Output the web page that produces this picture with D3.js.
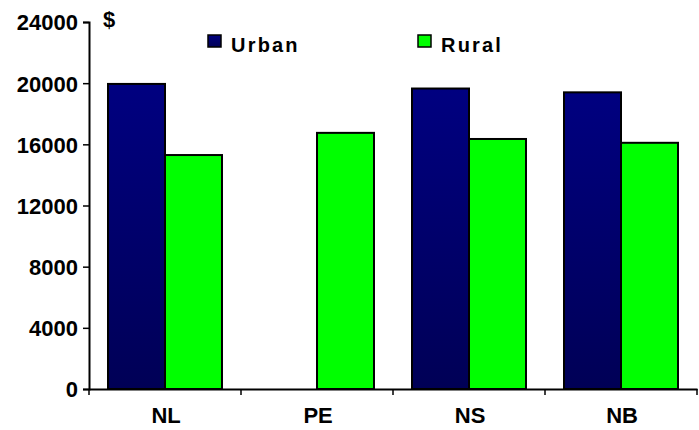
<!DOCTYPE html>
<html>
<head>
<meta charset="utf-8">
<script src="https://cdn.jsdelivr.net/npm/d3@7"></script>
<style>
  html, body { margin: 0; padding: 0; background: #fff; }
  svg text { font-family: "Liberation Sans", Arial, sans-serif; font-weight: bold; fill: #000; }
</style>
</head>
<body>
<svg id="chart" width="699" height="430"></svg>
<script>
// Average income by province, urban vs rural
const provinces = ["NL", "PE", "NS", "NB"];
const seriesNames = ["Urban", "Rural"];
const urbanValues = [19950, null, 19650, 19400];
const ruralValues = [15300, 16750, 16350, 16100];
const yTickValues = [0, 4000, 8000, 12000, 16000, 20000, 24000];
const seriesColors = { Urban: "#000080", Rural: "#00ff00" };

const svg = d3.select("#chart");
const W = 699, H = 430;
const margin = { top: 22, right: 2, bottom: 41, left: 89 };

const defs = svg.append("defs");
const grad = defs.append("linearGradient")
  .attr("id", "urbanFill").attr("x1", 0).attr("y1", 0).attr("x2", 0).attr("y2", 1);
grad.append("stop").attr("offset", "0%").attr("stop-color", "#000080");
grad.append("stop").attr("offset", "100%").attr("stop-color", "#000056");

const x0 = d3.scaleBand().domain(provinces).range([margin.left, W - margin.right]).padding(0);
const bw = x0.bandwidth();
const groupPad = bw * 0.125;
const x1 = d3.scaleBand().domain(seriesNames).range([groupPad, bw - groupPad]).padding(0);
const y = d3.scaleLinear().domain([0, 24000]).range([H - margin.bottom, margin.top]);

const rows = provinces.map((p, i) => ({
  province: p,
  values: [
    { key: "Urban", value: urbanValues[i] },
    { key: "Rural", value: ruralValues[i] }
  ]
}));

// Bars
const groups = svg.append("g").selectAll("g").data(rows).join("g")
  .attr("transform", d => `translate(${x0(d.province)},0)`);
groups.selectAll("rect")
  .data(d => d.values.filter(v => v.value != null))
  .join("rect")
  .attr("x", d => x1(d.key))
  .attr("y", d => y(d.value))
  .attr("width", x1.bandwidth())
  .attr("height", d => y(0) - y(d.value))
  .attr("fill", d => d.key === "Urban" ? "url(#urbanFill)" : seriesColors.Rural)
  .attr("stroke", "#000")
  .attr("stroke-width", 2);

// Y axis
const yAxis = svg.append("g")
  .attr("transform", `translate(${margin.left},0)`)
  .call(d3.axisLeft(y).tickValues(yTickValues).tickSize(6).tickPadding(5).tickFormat(d3.format("d")));
yAxis.select(".domain").attr("stroke", "#000").attr("stroke-width", 2);
yAxis.selectAll(".tick line").attr("stroke", "#000").attr("stroke-width", 1.5);
yAxis.selectAll(".tick text").style("font-size", "22px").attr("dy", "0.36em");

// X axis: labels at band centres, ticks at band boundaries
const xAxis = svg.append("g")
  .attr("transform", `translate(0,${y(0)})`)
  .call(d3.axisBottom(x0).tickSize(0).tickPadding(18));
xAxis.select(".domain").attr("stroke", "#000").attr("stroke-width", 2);
xAxis.selectAll(".tick text").style("font-size", "22px").attr("dx", "0.05em");
const boundaries = provinces.map(p => x0(p)).concat([x0(provinces[provinces.length - 1]) + bw]);
xAxis.selectAll(".bound").data(boundaries).join("line")
  .attr("class", "bound")
  .attr("x1", d => d).attr("x2", d => d)
  .attr("y1", 0).attr("y2", 6)
  .attr("stroke", "#000").attr("stroke-width", 1.5);

// Unit label
svg.append("text").attr("x", 103).attr("y", 27).style("font-size", "22px").text("$");

// Legend
const legendX = { Urban: 208, Rural: 418 };
const legend = svg.append("g").selectAll("g").data(seriesNames).join("g")
  .attr("transform", d => `translate(${legendX[d]},35)`);
legend.append("rect")
  .attr("width", 13).attr("height", 12)
  .attr("fill", d => d === "Urban" ? "url(#urbanFill)" : seriesColors.Rural)
  .attr("stroke", "#000").attr("stroke-width", 1.5);
legend.append("text")
  .attr("x", 23).attr("y", 16.5)
  .style("font-size", "20px").style("letter-spacing", "2.2px")
  .text(d => d);
</script>
</body>
</html>
